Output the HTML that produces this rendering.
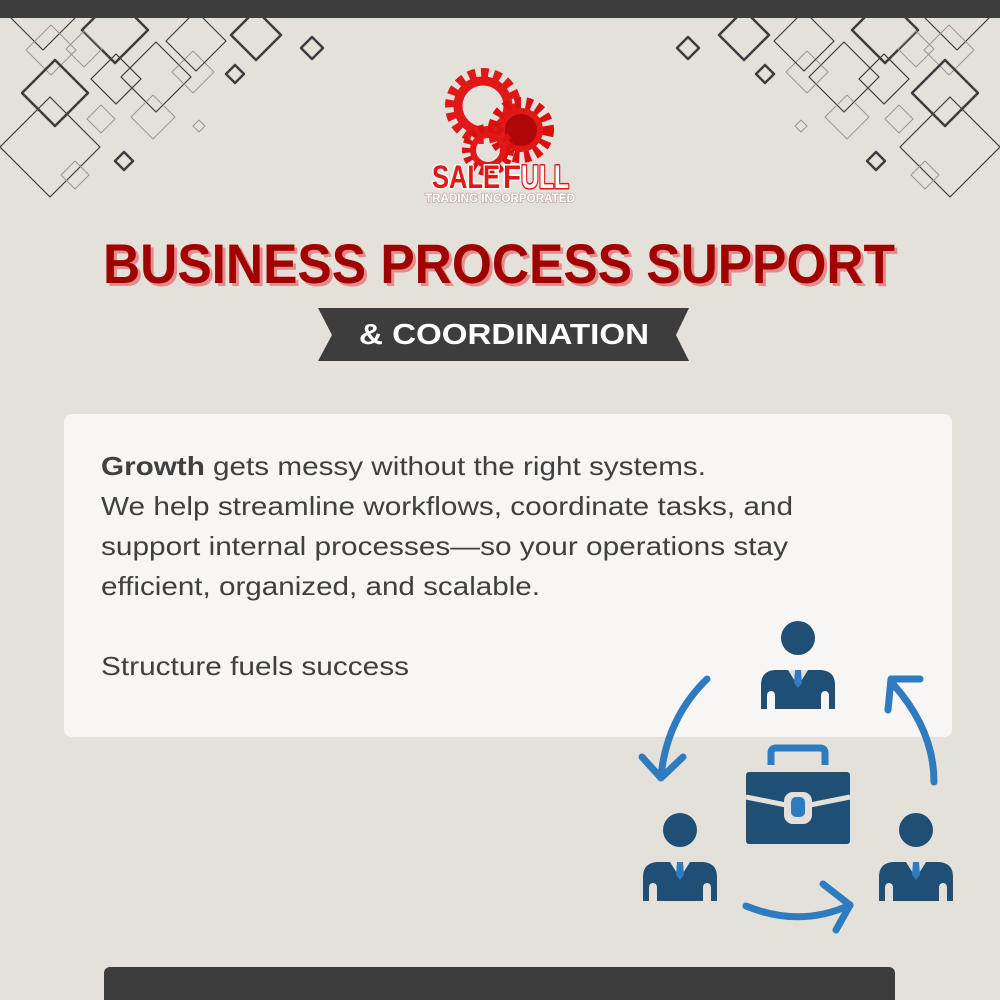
<!DOCTYPE html>
<html><head><meta charset="utf-8"><style>
html,body{margin:0;padding:0;background:#e4e0da;}
svg{display:block}
</style></head><body>
<svg width="1000" height="1000" viewBox="0 0 1000 1000" xmlns="http://www.w3.org/2000/svg" font-family="Liberation Sans, sans-serif">
<rect width="1000" height="1000" fill="#e4e0da"/>
<defs>
<g id="pat" fill="none" stroke-linejoin="round">
<path d="M43,-20 L78,15 L43,50 L8,15 Z" stroke="#3d3d3d" stroke-width="1.2"/>
<path d="M51,25 L76,50 L51,75 L26,50 Z" stroke="#9a9692" stroke-width="1"/>
<path d="M55,60 L88,93 L55,126 L22,93 Z" stroke="#3d3d3d" stroke-width="2.5"/>
<path d="M50,97 L100,147 L50,197 L0,147 Z" stroke="#3d3d3d" stroke-width="1.2"/>
<path d="M115,-3 L148,30 L115,63 L82,30 Z" stroke="#3d3d3d" stroke-width="2.5"/>
<path d="M116,54 L141,79 L116,104 L91,79 Z" stroke="#3d3d3d" stroke-width="1.2"/>
<path d="M156,42 L191,77 L156,112 L121,77 Z" stroke="#3d3d3d" stroke-width="1.2"/>
<path d="M84,31 L102,49 L84,67 L66,49 Z" stroke="#9a9692" stroke-width="1"/>
<path d="M193,51 L214,72 L193,93 L172,72 Z" stroke="#9a9692" stroke-width="1"/>
<path d="M153,95 L175,117 L153,139 L131,117 Z" stroke="#9a9692" stroke-width="1"/>
<path d="M101,105 L115,119 L101,133 L87,119 Z" stroke="#9a9692" stroke-width="1"/>
<path d="M196,11 L226,41 L196,71 L166,41 Z" stroke="#3d3d3d" stroke-width="1.2"/>
<path d="M256,10 L281,35 L256,60 L231,35 Z" stroke="#3d3d3d" stroke-width="2.5"/>
<path d="M235,65 L244,74 L235,83 L226,74 Z" stroke="#3d3d3d" stroke-width="2.5"/>
<path d="M312,37 L323,48 L312,59 L301,48 Z" stroke="#3d3d3d" stroke-width="2.5"/>
<path d="M199,120 L205,126 L199,132 L193,126 Z" stroke="#9a9692" stroke-width="1"/>
<path d="M124,152 L133,161 L124,170 L115,161 Z" stroke="#3d3d3d" stroke-width="2.5"/>
<path d="M75,161 L89,175 L75,189 L61,175 Z" stroke="#9a9692" stroke-width="1"/>
</g>
<g id="person">
<circle cx="0" cy="0" r="17" fill="#1f4f75"/>
<path d="M-37,71 L-37,47 Q-37,33 -23,32 L23,32 Q37,33 37,47 L37,71 L31,71 L31,58 Q31,53 27,53 Q23,53 23,58 L23,71 L-23,71 L-23,58 Q-23,53 -27,53 Q-31,53 -31,58 L-31,71 Z" fill="#1f4f75"/>
<path d="M-10,32 L0,48 L10,32 Z" fill="#e4e0da"/>
<path d="M-3,32 L3,32 L4,45 L0,50 L-4,45 Z" fill="#2e7bbf"/>
</g>
</defs>
<use href="#pat"/>
<g transform="translate(1000,0) scale(-1,1)"><use href="#pat"/></g>
<rect x="0" y="0" width="1000" height="18" fill="#3d3d3d"/>

<!-- logo -->
<g fill="none">
<circle cx="483" cy="106" r="31" stroke="#e01818" stroke-width="14" stroke-dasharray="7 5"/>
<circle cx="483" cy="106" r="25" stroke="#e01818" stroke-width="9"/>
<circle cx="521" cy="130" r="27" stroke="#d81010" stroke-width="12" stroke-dasharray="6 5"/>
<circle cx="521" cy="130" r="19" fill="#b00808" stroke="#e01818" stroke-width="6"/>
<circle cx="488" cy="150" r="21" stroke="#d81010" stroke-width="10" stroke-dasharray="5 4"/>
<circle cx="488" cy="150" r="15" stroke="#e01818" stroke-width="6"/>
</g>
<g font-weight="700" font-size="32" stroke-width="3" paint-order="stroke" stroke-linejoin="round">
<text x="432" y="188" fill="#e01818" stroke="#fff" textLength="68" lengthAdjust="spacingAndGlyphs">SALE</text>
<text x="503" y="188" fill="#e01818" stroke="#fff" textLength="18" lengthAdjust="spacingAndGlyphs">F</text>
<text x="521" y="188" fill="#fff" stroke="#e01818" textLength="48" lengthAdjust="spacingAndGlyphs">ULL</text>
</g>
<text x="425" y="202" font-size="12" font-weight="700" fill="#fff" stroke="#c8a8a8" stroke-width="1.5" paint-order="stroke" textLength="150" lengthAdjust="spacingAndGlyphs">TRADING INCORPORATED</text>

<!-- title -->
<text x="106" y="286" font-size="56" style="font-weight:bold" fill="#e38c8c" textLength="792" lengthAdjust="spacingAndGlyphs">BUSINESS PROCESS SUPPORT</text>
<text x="103" y="283" font-size="56" style="font-weight:bold" fill="#a00202" textLength="792" lengthAdjust="spacingAndGlyphs">BUSINESS PROCESS SUPPORT</text>
<path d="M318,308 L689,308 L676,335 L689,361 L318,361 L332,335 Z" fill="#3d3d3d"/>
<text x="359" y="344" font-size="29" style="font-weight:bold" fill="#fff" textLength="290" lengthAdjust="spacingAndGlyphs">&amp; COORDINATION</text>

<!-- card -->
<rect x="64" y="414" width="888" height="323" rx="8" fill="#f7f6f4"/>
<g font-size="26" fill="#404040">
<text x="101" y="475" textLength="605" lengthAdjust="spacingAndGlyphs"><tspan style="font-weight:bold">Growth</tspan> gets messy without the right systems.</text>
<text x="101" y="515" textLength="692" lengthAdjust="spacingAndGlyphs">We help streamline workflows, coordinate tasks, and</text>
<text x="101" y="555" textLength="687" lengthAdjust="spacingAndGlyphs">support internal processes—so your operations stay</text>
<text x="101" y="595" textLength="439" lengthAdjust="spacingAndGlyphs">efficient, organized, and scalable.</text>
<text x="101" y="675" textLength="308" lengthAdjust="spacingAndGlyphs">Structure fuels success</text>
</g>

<!-- icon -->
<use href="#person" transform="translate(798,638)"/>
<use href="#person" transform="translate(680,830)"/>
<use href="#person" transform="translate(916,830)"/>
<path d="M771,765 L771,753 Q771,748 776,748 L820,748 Q825,748 825,753 L825,765" fill="none" stroke="#2e7bbf" stroke-width="7"/>
<rect x="746" y="772" width="104" height="72" rx="3" fill="#1f4f75"/>
<path d="M746,797 L786,805 M810,805 L850,797" stroke="#e4e0da" stroke-width="5"/>
<rect x="784" y="792" width="28" height="32" rx="9" fill="#e4e0da"/>
<rect x="791" y="797" width="14" height="20" rx="5" fill="#2e7bbf"/>
<g fill="none" stroke="#2e7bbf" stroke-width="7" stroke-linecap="round" stroke-linejoin="round">
<path d="M707,679 Q667,718 661,776"/>
<path d="M642,757 L661,778 L683,757"/>
<path d="M934,782 Q934,730 893,684"/>
<path d="M888,710 L891,679 L920,679"/>
<path d="M746,906 Q800,928 850,905"/>
<path d="M823,884 L850,905 L836,930"/>
</g>

<!-- bottom bar -->
<rect x="104" y="967" width="791" height="50" rx="6" fill="#3d3d3d"/>
</svg>
</body></html>
